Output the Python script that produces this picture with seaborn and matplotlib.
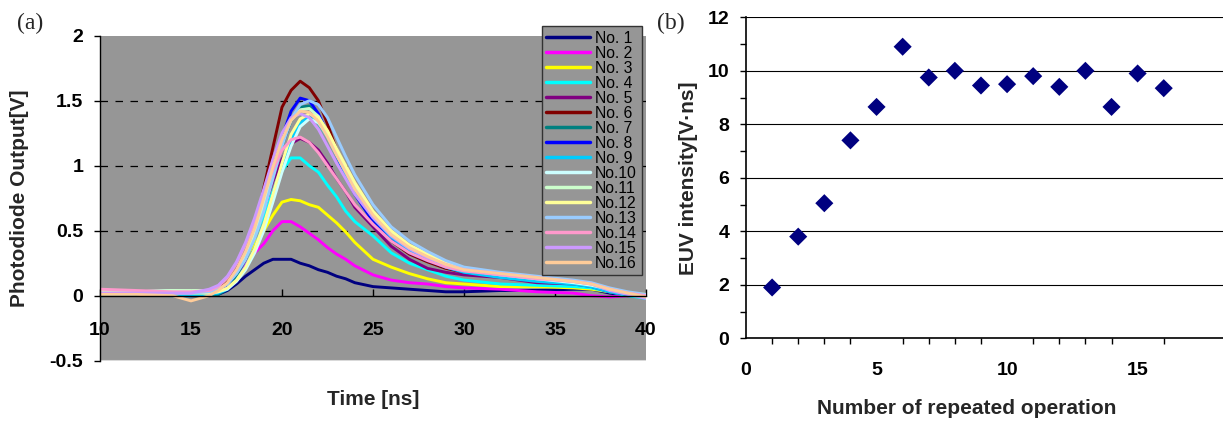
import numpy as np
import pandas as pd
import matplotlib
matplotlib.use("Agg")
import matplotlib.pyplot as plt
import seaborn as sns
from matplotlib.ticker import FixedLocator, MultipleLocator

# ---------------- data (a): photodiode waveforms ----------------
time_ns = [10, 12, 14, 15, 16, 16.5, 17, 17.5, 18, 18.5, 19, 19.5, 20, 20.5, 21, 21.5,
           22, 22.5, 23, 23.5, 24, 25, 26, 27, 28, 29, 30, 32, 34, 36, 37, 38, 39, 40]

no01 = [0.02, 0.03, 0.01, 0.00, 0.00, 0.01, 0.04, 0.09, 0.15, 0.20, 0.25, 0.28, 0.28, 0.28, 0.25, 0.23,
        0.20, 0.18, 0.15, 0.13, 0.10, 0.07, 0.06, 0.05, 0.04, 0.03, 0.03, 0.04, 0.04, 0.05, 0.05, 0.02, 0.00, 0.00]
no02 = [0.02, 0.02, 0.00, 0.00, 0.01, 0.03, 0.08, 0.15, 0.24, 0.33, 0.40, 0.50, 0.57, 0.57, 0.53, 0.48,
        0.43, 0.37, 0.32, 0.28, 0.23, 0.16, 0.12, 0.10, 0.09, 0.07, 0.06, 0.05, 0.03, 0.02, 0.00, -0.01, 0.00, 0.00]
no03 = [0.04, 0.03, 0.02, 0.02, 0.02, 0.04, 0.10, 0.20, 0.30, 0.40, 0.50, 0.62, 0.72, 0.74, 0.73, 0.70,
        0.68, 0.62, 0.56, 0.49, 0.41, 0.28, 0.22, 0.17, 0.13, 0.10, 0.09, 0.07, 0.07, 0.06, 0.05, 0.03, 0.02, 0.01]
no04 = [0.00, 0.01, 0.00, 0.00, 0.01, 0.03, 0.08, 0.18, 0.30, 0.45, 0.62, 0.80, 0.96, 1.06, 1.06, 1.00,
        0.95, 0.85, 0.76, 0.65, 0.57, 0.46, 0.33, 0.25, 0.20, 0.15, 0.12, 0.09, 0.08, 0.07, 0.06, 0.03, 0.00, -0.02]
no05 = [0.02, 0.02, 0.02, 0.01, 0.02, 0.04, 0.10, 0.20, 0.33, 0.48, 0.67, 0.88, 1.05, 1.17, 1.21, 1.18,
        1.12, 1.02, 0.90, 0.80, 0.68, 0.53, 0.38, 0.28, 0.21, 0.18, 0.16, 0.14, 0.10, 0.09, 0.07, 0.03, 0.01, 0.00]
no06 = [0.03, 0.03, 0.02, 0.02, 0.02, 0.05, 0.10, 0.18, 0.28, 0.50, 0.83, 1.14, 1.45, 1.58, 1.65, 1.60,
        1.50, 1.32, 1.12, 0.95, 0.80, 0.58, 0.42, 0.32, 0.26, 0.21, 0.18, 0.15, 0.12, 0.10, 0.08, 0.04, 0.02, 0.00]
no07 = [0.00, 0.01, 0.00, 0.00, 0.00, 0.01, 0.05, 0.15, 0.28, 0.45, 0.68, 0.92, 1.15, 1.35, 1.45, 1.46,
        1.38, 1.25, 1.10, 0.95, 0.82, 0.60, 0.45, 0.36, 0.30, 0.24, 0.20, 0.17, 0.14, 0.11, 0.09, 0.05, 0.02, 0.00]
no08 = [0.04, 0.03, 0.02, 0.02, 0.02, 0.04, 0.08, 0.18, 0.30, 0.48, 0.72, 0.98, 1.22, 1.42, 1.52, 1.50,
        1.40, 1.25, 1.08, 0.92, 0.78, 0.57, 0.43, 0.33, 0.27, 0.22, 0.18, 0.15, 0.12, 0.10, 0.08, 0.04, 0.01, 0.00]
no09 = [0.00, 0.01, 0.00, 0.00, 0.01, 0.02, 0.05, 0.12, 0.22, 0.36, 0.55, 0.78, 1.00, 1.20, 1.33, 1.37,
        1.33, 1.22, 1.08, 0.94, 0.80, 0.60, 0.45, 0.35, 0.28, 0.22, 0.18, 0.14, 0.11, 0.09, 0.07, 0.03, 0.01, -0.01]
no10 = [0.03, 0.03, 0.04, 0.03, 0.02, 0.03, 0.05, 0.11, 0.20, 0.33, 0.50, 0.72, 0.95, 1.15, 1.30, 1.36,
        1.33, 1.24, 1.10, 0.97, 0.84, 0.62, 0.47, 0.37, 0.30, 0.24, 0.20, 0.16, 0.13, 0.10, 0.08, 0.05, 0.02, 0.00]
no11 = [0.04, 0.03, 0.04, 0.04, 0.04, 0.05, 0.09, 0.18, 0.30, 0.47, 0.70, 0.95, 1.18, 1.35, 1.43, 1.44,
        1.38, 1.26, 1.12, 0.98, 0.85, 0.63, 0.48, 0.38, 0.31, 0.25, 0.21, 0.17, 0.14, 0.11, 0.09, 0.05, 0.02, 0.00]
no12 = [0.03, 0.02, 0.02, 0.02, 0.02, 0.03, 0.06, 0.12, 0.22, 0.36, 0.55, 0.78, 1.02, 1.24, 1.36, 1.40,
        1.37, 1.27, 1.13, 1.00, 0.87, 0.65, 0.50, 0.39, 0.32, 0.26, 0.21, 0.17, 0.14, 0.11, 0.09, 0.05, 0.02, 0.00]
no13 = [0.02, 0.02, 0.02, 0.02, 0.03, 0.05, 0.09, 0.17, 0.28, 0.44, 0.65, 0.90, 1.15, 1.36, 1.47, 1.50,
        1.47, 1.37, 1.22, 1.07, 0.93, 0.70, 0.53, 0.42, 0.34, 0.27, 0.22, 0.18, 0.15, 0.12, 0.10, 0.06, 0.03, 0.01]
no14 = [0.05, 0.04, 0.03, 0.03, 0.04, 0.07, 0.14, 0.25, 0.40, 0.57, 0.78, 0.97, 1.12, 1.20, 1.22, 1.18,
        1.10, 1.00, 0.90, 0.80, 0.70, 0.55, 0.42, 0.33, 0.27, 0.22, 0.19, 0.16, 0.13, 0.11, 0.09, 0.05, 0.02, 0.00]
no15 = [0.02, 0.02, 0.02, 0.02, 0.05, 0.08, 0.15, 0.26, 0.41, 0.60, 0.82, 1.05, 1.25, 1.37, 1.40, 1.37,
        1.28, 1.15, 1.02, 0.90, 0.78, 0.60, 0.46, 0.36, 0.29, 0.24, 0.20, 0.17, 0.14, 0.11, 0.09, 0.04, 0.01, -0.02]
no16 = [0.01, 0.01, 0.00, -0.04, 0.00, 0.04, 0.10, 0.20, 0.34, 0.52, 0.75, 0.99, 1.20, 1.35, 1.42, 1.41,
        1.34, 1.22, 1.08, 0.95, 0.82, 0.62, 0.47, 0.37, 0.30, 0.24, 0.20, 0.17, 0.14, 0.11, 0.09, 0.05, 0.02, -0.01]

shot_labels = ["No. 1", "No. 2", "No. 3", "No. 4", "No. 5", "No. 6", "No. 7", "No. 8", "No. 9",
               "No.10", "No.11", "No.12", "No.13", "No.14", "No.15", "No.16"]
shot_colors = ["#000080", "#FF00FF", "#FFFF00", "#00FFFF", "#800080", "#800000", "#008080", "#0000FF",
               "#00CCFF", "#CCFFFF", "#CCFFCC", "#FFFF99", "#99CCFF", "#FF99CC", "#CC99FF", "#FFCC99"]

# ---------------- data (b): EUV intensity ----------------
repeat_no = [1, 2, 3, 4, 5, 6, 7, 8, 9, 10, 11, 12, 13, 14, 15, 16]
euv_intensity = [1.9, 3.8, 5.05, 7.4, 8.65, 10.9, 9.75, 10.0, 9.45, 9.5, 9.8, 9.4, 10.0, 8.65, 9.9, 9.35]

x_ticks_a = [10, 15, 20, 25, 30, 35, 40]
y_ticks_a = [-0.5, 0, 0.5, 1, 1.5, 2]
y_tick_labels_a = ["-0.5", "0", "0.5", "1", "1.5", "2"]
x_ticks_b = [0, 5, 10, 15]
y_ticks_b = [0, 2, 4, 6, 8, 10, 12]

# ---------------- style ----------------
sns.set_theme(style="ticks")
plt.rcParams["font.family"] = ["Liberation Sans", "DejaVu Sans"]
plt.rcParams["axes.edgecolor"] = "black"

TICK_FS = 14
LABEL_FS = 15

waves = [no01, no02, no03, no04, no05, no06, no07, no08, no09, no10, no11, no12, no13, no14, no15, no16]
df_a = pd.DataFrame({
    "time": np.tile(time_ns, len(waves)),
    "volt": np.concatenate(waves),
    "shot": np.repeat(shot_labels, len(time_ns)),
})
df_b = pd.DataFrame({"n": repeat_no, "euv": euv_intensity})

W, H = 1223, 425
fig = plt.figure(figsize=(W / 100, H / 100), dpi=100)
ax1 = fig.add_axes([100 / W, 1 - 360.7 / H, 546 / W, 325 / H])
ax2 = fig.add_axes([746 / W, 1 - 338.3 / H, 477 / W, 321 / H])

# ---------------- panel (a) ----------------
ax1.set_facecolor("#969696")
sns.lineplot(data=df_a, x="time", y="volt", hue="shot", hue_order=shot_labels,
             palette=shot_colors, linewidth=2.1, estimator=None, sort=False, ax=ax1)
ax1.set_xlim(10, 40)
ax1.set_ylim(-0.5, 2)
for yv in [0.5, 1.0, 1.5]:
    ax1.axhline(yv, color="black", lw=0.9, ls=(0, (6, 6)), zorder=0.5)
ax1.axhline(-0.5, color="#d9d9d9", lw=1.5, zorder=0.5)

ax1.spines["bottom"].set_position(("data", 0))
ax1.spines["top"].set_visible(False)
ax1.spines["right"].set_visible(False)
ax1.spines["left"].set_linewidth(1.0)
ax1.spines["bottom"].set_linewidth(1.0)
ax1.xaxis.set_major_locator(FixedLocator(x_ticks_a))
ax1.yaxis.set_major_locator(FixedLocator(y_ticks_a))
ax1.set_yticklabels(y_tick_labels_a)
ax1.tick_params(axis="x", direction="in", length=5, width=1, pad=19, labelsize=TICK_FS, colors="black")
ax1.tick_params(axis="y", direction="out", length=4, width=1, pad=8, labelsize=TICK_FS, colors="black")
for lab in ax1.get_xticklabels() + ax1.get_yticklabels():
    lab.set_fontweight("bold")
ax1.set_xlabel("Time [ns]", fontsize=LABEL_FS, fontweight="bold")
ax1.set_ylabel("Photodiode Output[V]", fontsize=LABEL_FS, fontweight="bold")
ax1.xaxis.set_label_coords(0.5, -0.09)
ax1.yaxis.set_label_coords(-0.13, 0.5)

handles, labels = ax1.get_legend_handles_labels()
for h in handles:
    h.set_linewidth(2.5)
leg = ax1.legend(handles, labels, loc="upper right", bbox_to_anchor=(0.992, 1.03),
                 fontsize=11.3, frameon=True, fancybox=False, framealpha=1,
                 facecolor="#969696", edgecolor="#333333", labelspacing=0.0,
                 handlelength=2.8, handletextpad=0.3, borderpad=0.3, borderaxespad=0)
leg.get_frame().set_linewidth(1.0)
for t in leg.get_texts():
    t.set_color("black")

# ---------------- panel (b) ----------------
ax2.set_facecolor("white")
sns.scatterplot(data=df_b, x="n", y="euv", marker="D", s=85, color="#000080",
                edgecolor="none", ax=ax2, zorder=3)
ax2.set_xlim(0, 18.27)
ax2.set_ylim(0, 12)
ax2.yaxis.set_major_locator(FixedLocator(y_ticks_b))
ax2.yaxis.set_minor_locator(MultipleLocator(1))
ax2.xaxis.set_major_locator(FixedLocator(x_ticks_b))
ax2.xaxis.set_minor_locator(FixedLocator(repeat_no))
ax2.yaxis.grid(True, which="major", color="black", lw=0.8)
ax2.set_axisbelow(True)
ax2.spines["top"].set_visible(False)
ax2.spines["right"].set_visible(False)
ax2.spines["left"].set_linewidth(1.2)
ax2.spines["bottom"].set_linewidth(1.2)
ax2.tick_params(axis="x", which="major", direction="out", length=0, pad=17, labelsize=TICK_FS, colors="black")
ax2.tick_params(axis="x", which="minor", direction="out", length=4, width=1, colors="black")
ax2.tick_params(axis="y", which="major", direction="out", length=4, width=1, pad=8, labelsize=TICK_FS, colors="black")
ax2.tick_params(axis="y", which="minor", direction="out", length=4, width=1, colors="black")
for lab in ax2.get_xticklabels() + ax2.get_yticklabels():
    lab.set_fontweight("bold")
ax2.set_xlabel("Number of repeated operation", fontsize=LABEL_FS, fontweight="bold")
ax2.set_ylabel("EUV intensity[V\u00b7ns]", fontsize=LABEL_FS, fontweight="bold")
ax2.xaxis.set_label_coords((967 - 746) / 477, -0.19)
ax2.yaxis.set_label_coords(-0.1, 0.5)

# panel labels
fig.text(17 / W, 1 - 23 / H, "(a)", fontsize=17, family="Liberation Serif", va="center", ha="left")
fig.text(657 / W, 1 - 23 / H, "(b)", fontsize=17, family="Liberation Serif", va="center", ha="left")

fig.savefig("out.png", dpi=100)
